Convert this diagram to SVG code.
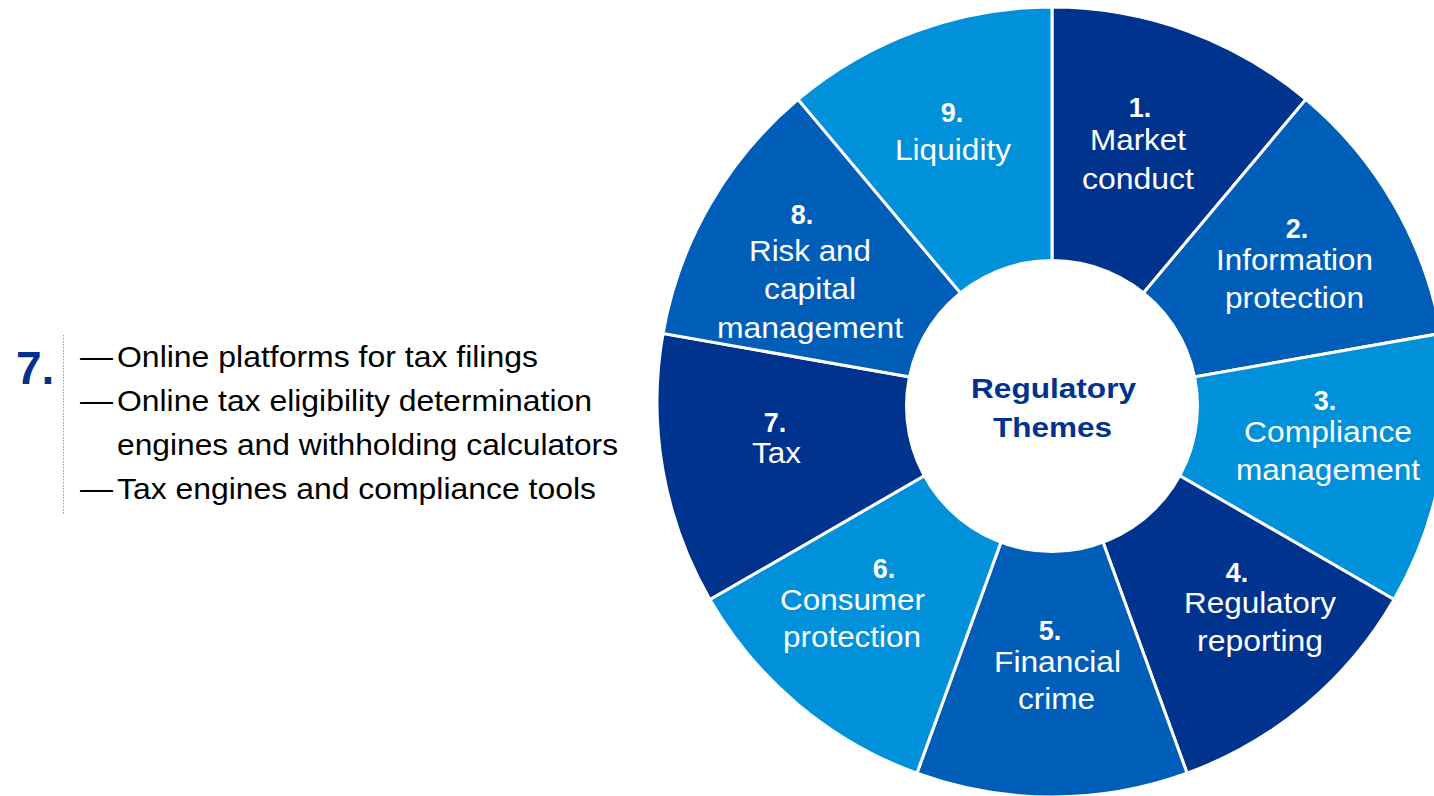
<svg xmlns="http://www.w3.org/2000/svg" width="1434" height="796" viewBox="0 0 1434 796">
  <style>
    text { font-family: "Liberation Sans", Arial, sans-serif; }
    .wedge { stroke: #ffffff; stroke-width: 3; stroke-linejoin: miter; }
    .dark { fill: #00338D; }
    .mid { fill: #005EB8; }
    .light { fill: #0091DA; }
    .num { fill: #ffffff; font-size: 27px; font-weight: bold; text-anchor: middle; }
    .lbl { fill: #ffffff; font-size: 29px; text-anchor: middle; }
    .hub { fill: #00338D; font-size: 28px; font-weight: bold; text-anchor: middle; }
    .item { fill: #000000; font-size: 29px; }
  </style>

  <!-- Detail panel for theme 7 -->
  <g id="detail-tax">
    <text x="16" y="384" style="font-size:46px;font-weight:bold;fill:#00338D">7.</text>
    <line x1="63.5" y1="335" x2="63.5" y2="515" stroke="#9a9a9a" stroke-width="1" stroke-dasharray="1.5 1.5"/>
    <text class="item" x="80" y="367" textLength="33" lengthAdjust="spacingAndGlyphs">—</text>
    <text class="item" x="117" y="367" textLength="421" lengthAdjust="spacingAndGlyphs">Online platforms for tax filings</text>
    <text class="item" x="80" y="411" textLength="33" lengthAdjust="spacingAndGlyphs">—</text>
    <text class="item" x="117" y="411" textLength="475" lengthAdjust="spacingAndGlyphs">Online tax eligibility determination</text>
    <text class="item" x="117" y="455" textLength="501" lengthAdjust="spacingAndGlyphs">engines and withholding calculators</text>
    <text class="item" x="80" y="499" textLength="33" lengthAdjust="spacingAndGlyphs">—</text>
    <text class="item" x="117" y="499" textLength="479" lengthAdjust="spacingAndGlyphs">Tax engines and compliance tools</text>
  </g>

  <!-- Wheel segments, clockwise from the top -->
  <g id="segment-1">
    <path class="wedge dark" d="M1052,402 L1052,7 A395,395 0 0 1 1305.9,99.4 Z"/>
    <text class="num" x="1140" y="117">1.</text>
    <text class="lbl" x="1138" y="150" textLength="96" lengthAdjust="spacingAndGlyphs">Market</text>
    <text class="lbl" x="1138" y="189" textLength="112" lengthAdjust="spacingAndGlyphs">conduct</text>
  </g>
  <g id="segment-2">
    <path class="wedge mid" d="M1052,402 L1305.9,99.4 A395,395 0 0 1 1441,333.4 Z"/>
    <text class="num" x="1297" y="238">2.</text>
    <text class="lbl" x="1294.5" y="270" textLength="157" lengthAdjust="spacingAndGlyphs">Information</text>
    <text class="lbl" x="1294.5" y="308" textLength="139" lengthAdjust="spacingAndGlyphs">protection</text>
  </g>
  <g id="segment-3">
    <path class="wedge light" d="M1052,402 L1441,333.4 A395,395 0 0 1 1394.1,599.5 Z"/>
    <text class="num" x="1325" y="410">3.</text>
    <text class="lbl" x="1328" y="442" textLength="168" lengthAdjust="spacingAndGlyphs">Compliance</text>
    <text class="lbl" x="1328" y="480" textLength="184" lengthAdjust="spacingAndGlyphs">management</text>
  </g>
  <g id="segment-4">
    <path class="wedge dark" d="M1052,402 L1394.1,599.5 A395,395 0 0 1 1187.1,773.2 Z"/>
    <text class="num" x="1237" y="582">4.</text>
    <text class="lbl" x="1260" y="613" textLength="152" lengthAdjust="spacingAndGlyphs">Regulatory</text>
    <text class="lbl" x="1260" y="651" textLength="126" lengthAdjust="spacingAndGlyphs">reporting</text>
  </g>
  <g id="segment-5">
    <path class="wedge mid" d="M1052,402 L1187.1,773.2 A395,395 0 0 1 916.9,773.2 Z"/>
    <text class="num" x="1050" y="640">5.</text>
    <text class="lbl" x="1057.5" y="672" textLength="127" lengthAdjust="spacingAndGlyphs">Financial</text>
    <text class="lbl" x="1056.5" y="709" textLength="77" lengthAdjust="spacingAndGlyphs">crime</text>
  </g>
  <g id="segment-6">
    <path class="wedge light" d="M1052,402 L916.9,773.2 A395,395 0 0 1 709.9,599.5 Z"/>
    <text class="num" x="884" y="578">6.</text>
    <text class="lbl" x="852.5" y="610" textLength="145" lengthAdjust="spacingAndGlyphs">Consumer</text>
    <text class="lbl" x="852" y="647" textLength="138" lengthAdjust="spacingAndGlyphs">protection</text>
  </g>
  <g id="segment-7">
    <path class="wedge dark" d="M1052,402 L709.9,599.5 A395,395 0 0 1 663,333.4 Z"/>
    <text class="num" x="775" y="432">7.</text>
    <text class="lbl" x="776.5" y="463" textLength="49" lengthAdjust="spacingAndGlyphs">Tax</text>
  </g>
  <g id="segment-8">
    <path class="wedge mid" d="M1052,402 L663,333.4 A395,395 0 0 1 798.1,99.4 Z"/>
    <text class="num" x="802" y="224">8.</text>
    <text class="lbl" x="810" y="261" textLength="122" lengthAdjust="spacingAndGlyphs">Risk and</text>
    <text class="lbl" x="810" y="299" textLength="92" lengthAdjust="spacingAndGlyphs">capital</text>
    <text class="lbl" x="810" y="338" textLength="186" lengthAdjust="spacingAndGlyphs">management</text>
  </g>
  <g id="segment-9">
    <path class="wedge light" d="M1052,402 L798.1,99.4 A395,395 0 0 1 1052,7 Z"/>
    <text class="num" x="952" y="122">9.</text>
    <text class="lbl" x="953" y="160" textLength="116" lengthAdjust="spacingAndGlyphs">Liquidity</text>
  </g>

  <!-- Hub -->
  <g id="hub">
    <circle cx="1052" cy="406" r="147" fill="#ffffff"/>
    <text class="hub" x="1053.5" y="398" textLength="165" lengthAdjust="spacingAndGlyphs">Regulatory</text>
    <text class="hub" x="1052.5" y="437" textLength="119" lengthAdjust="spacingAndGlyphs">Themes</text>
  </g>
</svg>
